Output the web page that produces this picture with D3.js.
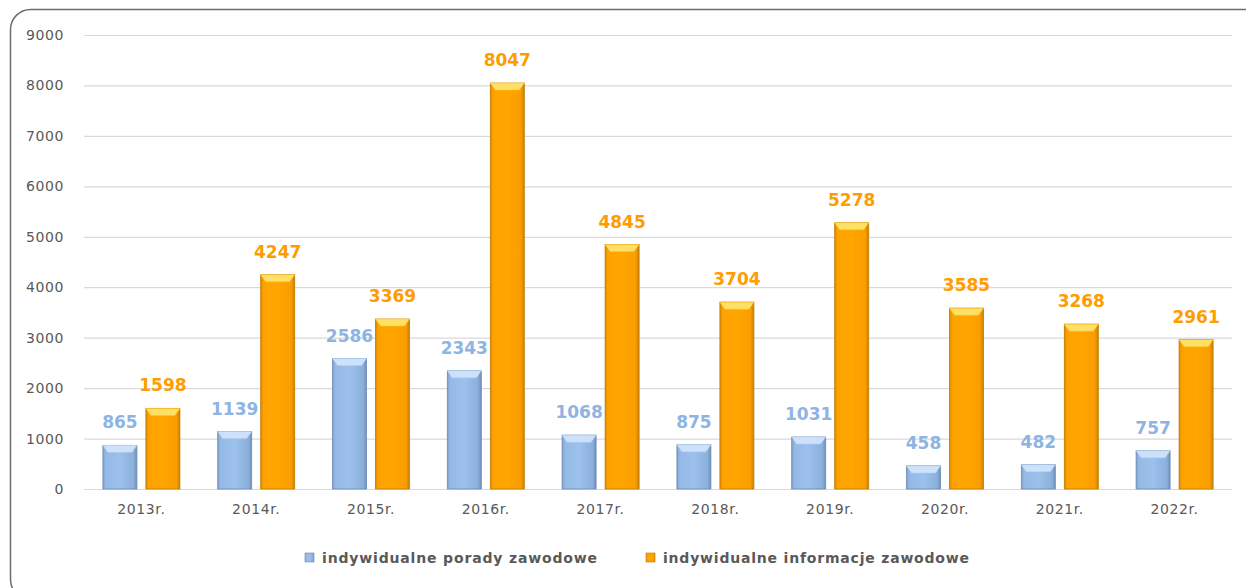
<!DOCTYPE html>
<html><head><meta charset="utf-8">
<script src="https://cdn.jsdelivr.net/npm/d3@7/dist/d3.min.js"></script>
<style>html,body{margin:0;padding:0;background:#fff;}svg{display:block;}</style>
</head><body>
<svg id="c" width="1246" height="588"></svg>
<script>
const categories = ["2013r.","2014r.","2015r.","2016r.","2017r.","2018r.","2019r.","2020r.","2021r.","2022r."];
const porady = [865,1139,2586,2343,1068,875,1031,458,482,757];
const informacje = [1598,4247,3369,8047,4845,3704,5278,3585,3268,2961];
const seriesNames = ["indywidualne porady zawodowe","indywidualne informacje zawodowe"];
const yTicks = [0,1000,2000,3000,4000,5000,6000,7000,8000,9000];

(function(){
const svg = d3.select("#c");
const plotL = 84, plotR = 1232, plotT = 35, plotB = 489;

// frame
svg.append("rect").attr("x",10.5).attr("y",9.5).attr("width",1260).attr("height",590)
  .attr("rx",20).attr("ry",20).attr("fill","#fff").attr("stroke","#6d6d6d").attr("stroke-width",1.5);

const defs = svg.append("defs");
function grad(id, stops){
  const g = defs.append("linearGradient").attr("id",id).attr("x1","0").attr("x2","1").attr("y1","0").attr("y2","0");
  stops.forEach(s=>g.append("stop").attr("offset",s[0]).attr("stop-color",s[1]));
}
grad("gBlue",[[0,"#7e9fc8"],[0.08,"#95b9e6"],[0.5,"#9dc1ec"],[0.9,"#8cb0dc"],[1,"#6f8fb8"]]);
grad("gOrange",[[0,"#d98a00"],[0.08,"#ffa200"],[0.5,"#ffa600"],[0.9,"#fa9d00"],[1,"#c98000"]]);

const x = d3.scaleBand().domain(categories).range([plotL,plotR]);
const y = d3.scaleLinear().domain([0,9000]).range([plotB,plotT]);

// grid
svg.append("g").selectAll("line").data(yTicks).join("line")
  .attr("x1",plotL).attr("x2",plotR).attr("y1",d=>y(d)+0.5).attr("y2",d=>y(d)+0.5)
  .attr("stroke","#d9d9d9").attr("stroke-width",1.2);

// y axis labels
const yAxis = d3.axisLeft(y).tickValues(yTicks).tickSize(0).tickPadding(0).tickFormat(d3.format("d"));
const ya = svg.append("g").attr("transform","translate(64,0)").call(yAxis);
ya.select(".domain").remove();
ya.selectAll("text").attr("font-family","DejaVu Sans").attr("font-size",14).attr("fill","#595959")
  .attr("letter-spacing","0.6px");

// x axis labels
const xAxis = d3.axisBottom(x).tickSize(0).tickPadding(0);
const xa = svg.append("g").attr("transform",`translate(0,${plotB+15})`).call(xAxis);
xa.select(".domain").remove();
xa.selectAll("text").attr("font-family","DejaVu Sans").attr("font-size",14).attr("fill","#595959")
  .attr("letter-spacing","0.6px");

const bw = 34, gap = 9;
const series = [
  {vals:porady, off:-(gap/2+bw), fill:"url(#gBlue)", stroke:"#6b8bb4", topc:"#cde2fa", topc2:"#b3d0f2", label:"#8db4e3"},
  {vals:informacje, off:gap/2, fill:"url(#gOrange)", stroke:"#c07a00", topc:"#ffe066", topc2:"#ffc629", label:"#ff9c00"}
];

series.forEach(s=>{
  const g = svg.append("g");
  const data = categories.map((c,i)=>({c, v:s.vals[i]}));
  const x0 = d=> x(d.c)+x.bandwidth()/2 + s.off;
  g.selectAll("rect").data(data).join("rect")
    .attr("x",x0).attr("y",d=>y(d.v)).attr("width",bw).attr("height",d=>plotB-y(d.v))
    .attr("fill",s.fill).attr("stroke",s.stroke).attr("stroke-width",0.8);
  g.selectAll("polygon.tp").data(data).join("polygon").attr("class","tp")
    .attr("points",d=>{const a=x0(d), t=y(d.v); return `${a},${t} ${a+bw},${t} ${a+bw-5},${t+7} ${a+5},${t+7}`;})
    .attr("fill",s.topc).attr("stroke",s.topc2).attr("stroke-width",0.5);
  g.selectAll("text").data(data).join("text")
    .attr("x",d=>x0(d)+bw/2).attr("y",d=>y(d.v)-17)
    .attr("text-anchor","middle").attr("font-family","DejaVu Sans").attr("font-weight","bold")
    .attr("font-size",17).attr("fill",s.label).text(d=>d.v);
});

// legend
const leg = svg.append("g");
const legItems = [
  {name:seriesNames[0], x:305, fill:"url(#gBlue)", stroke:"#6b8bb4", len:275},
  {name:seriesNames[1], x:646, fill:"url(#gOrange)", stroke:"#c07a00", len:306}
];
legItems.forEach(l=>{
  leg.append("rect").attr("x",l.x).attr("y",553).attr("width",9).attr("height",9)
    .attr("fill",l.fill).attr("stroke",l.stroke).attr("stroke-width",0.6);
  leg.append("text").attr("x",l.x+17).attr("y",563).attr("font-family","DejaVu Sans")
    .attr("font-weight","bold").attr("font-size",14).attr("fill","#595959")
    .attr("textLength",l.len).attr("lengthAdjust","spacing").text(l.name);
});
})();
</script>
</body></html>
